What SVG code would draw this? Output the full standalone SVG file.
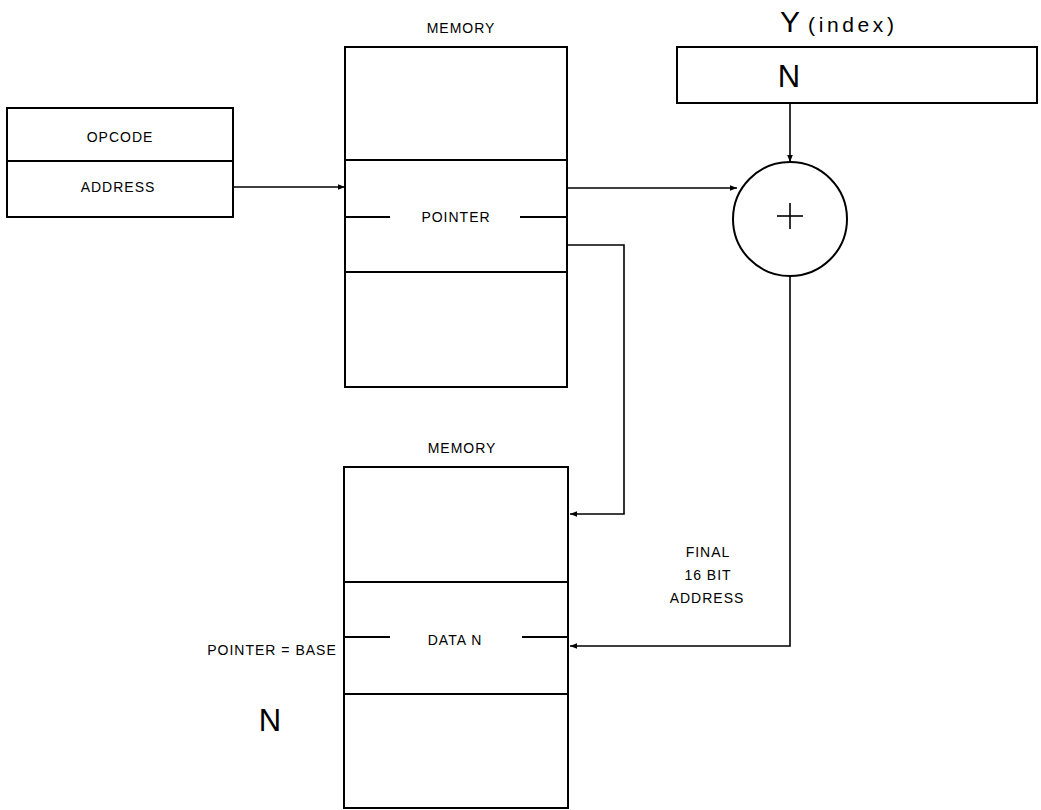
<svg xmlns="http://www.w3.org/2000/svg" width="1041" height="810" viewBox="0 0 1041 810">
<style>
.box{fill:none;stroke:#000;stroke-width:2}
.ln{fill:none;stroke:#000;stroke-width:1.6}
.t{font-family:"Liberation Sans",Arial,sans-serif;font-size:14px;fill:#000;text-anchor:middle;letter-spacing:1px}
.big{font-family:"Liberation Sans",Arial,sans-serif;font-size:31px;fill:#000;text-anchor:middle}
</style>
<defs>
<marker id="ah" viewBox="0 0 10 10" refX="10" refY="5" markerWidth="11" markerHeight="7" markerUnits="userSpaceOnUse" orient="auto">
<path d="M0,1 L10,5 L0,9 Z" fill="#000"/>
</marker>
</defs>
<rect width="1041" height="810" fill="#fff"/>
<g id="instruction">
<rect class="box" x="7" y="108" width="226" height="109"/>
<line class="box" x1="7" y1="161" x2="233" y2="161"/>
<text class="t" x="120" y="142">OPCODE</text>
<text class="t" x="118" y="192">ADDRESS</text>
</g>
<g id="memory1">
<text class="t" x="461" y="33">MEMORY</text>
<rect class="box" x="345" y="47" width="222" height="340"/>
<line class="box" x1="345" y1="160" x2="567" y2="160"/>
<line class="box" x1="345" y1="272" x2="567" y2="272"/>
<line class="box" x1="345" y1="217" x2="390" y2="217"/>
<line class="box" x1="520" y1="217" x2="567" y2="217"/>
<text class="t" x="456" y="222">POINTER</text>
</g>
<g id="yindex">
<text font-family="Liberation Sans,Arial,sans-serif" font-size="30" x="790" y="32" text-anchor="middle">Y</text>
<text font-family="Liberation Sans,Arial,sans-serif" font-size="21" x="808" y="32" textLength="86" lengthAdjust="spacing">(index)</text>
<rect class="box" x="677" y="47" width="360" height="56"/>
<text class="big" x="789" y="87">N</text>
</g>
<g id="adder">
<circle class="box" cx="790" cy="219" r="57"/>
<line class="ln" x1="777" y1="216" x2="803" y2="216"/>
<line class="ln" x1="790" y1="203" x2="790" y2="229"/>
</g>
<g id="memory2">
<text class="t" x="462" y="453">MEMORY</text>
<rect class="box" x="344" y="467" width="224" height="341"/>
<line class="box" x1="344" y1="582" x2="568" y2="582"/>
<line class="box" x1="344" y1="694" x2="568" y2="694"/>
<line class="box" x1="344" y1="637" x2="390" y2="637"/>
<line class="box" x1="522" y1="637" x2="568" y2="637"/>
<text class="t" x="455" y="645">DATA N</text>
</g>
<g id="labels">
<text class="t" x="272" y="655">POINTER = BASE</text>
<text class="big" x="270" y="731">N</text>
<text class="t" x="708" y="557">FINAL</text>
<text class="t" x="708" y="580">16 BIT</text>
<text class="t" x="707" y="603">ADDRESS</text>
</g>
<g id="connectors">
<line class="ln" x1="233" y1="187" x2="345" y2="187" marker-end="url(#ah)"/>
<line class="ln" x1="567" y1="188" x2="737" y2="188" marker-end="url(#ah)"/>
<line class="ln" x1="790" y1="103" x2="790" y2="162" marker-end="url(#ah)"/>
<polyline class="ln" points="567,245 624,245 624,514 570,514" marker-end="url(#ah)"/>
<polyline class="ln" points="790,276 790,646 570,646" marker-end="url(#ah)"/>
</g>
</svg>
